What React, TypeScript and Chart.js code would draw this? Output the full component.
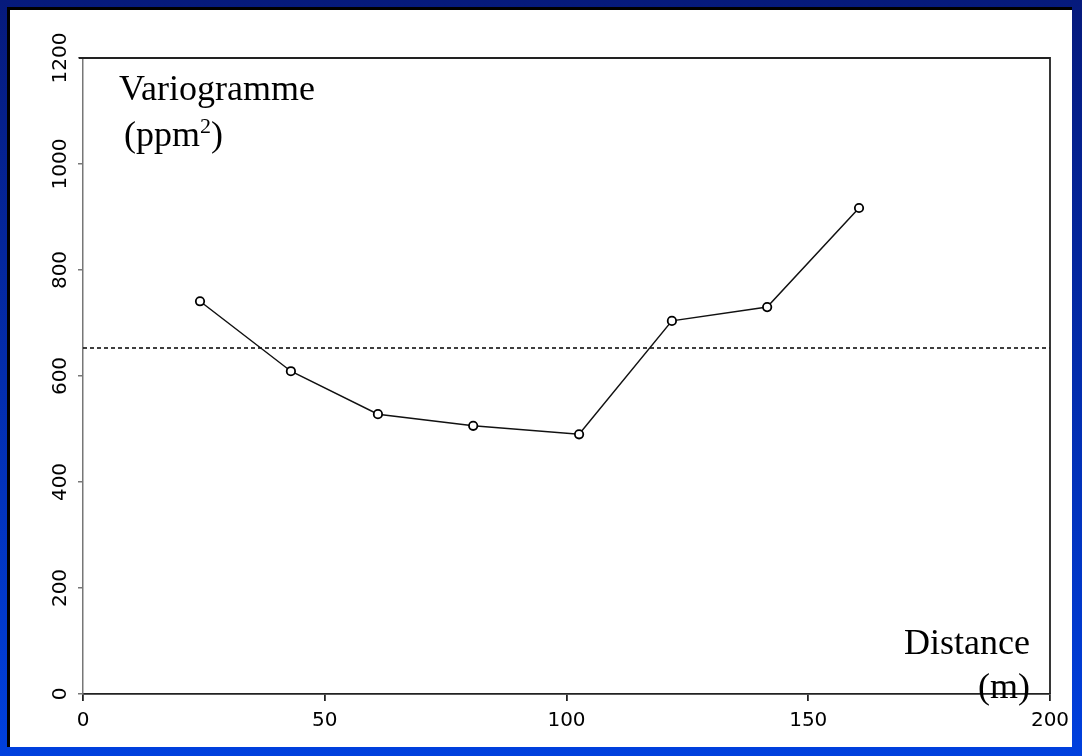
import React, { useEffect, useRef } from "react";
import { Chart, registerables } from "chart.js";

Chart.register(...registerables);

// Experimental variogram: lag distance (m) and semivariance (ppm²)
const distances = [24.2, 43.0, 61.0, 80.7, 102.6, 121.8, 141.5, 160.5];
const semivariance = [741, 609, 528, 506, 490, 704, 730, 917];
// Sample variance (horizontal dashed reference)
const sillValue = 653;
const sillX = [0, 200];
const xTickValues = [0, 50, 100, 150, 200];
const yTickValues = [0, 200, 400, 600, 800, 1000, 1200];

export default function App() {
  const ref = useRef<HTMLCanvasElement | null>(null);

  useEffect(() => {
    document.body.style.margin = "0";
    const canvas = ref.current;
    if (!canvas) return;

    const bgPlugin = {
      id: "bgPanel",
      beforeDraw(chart: any) {
        const { ctx, width, height } = chart;
        ctx.save();
        const g = ctx.createLinearGradient(0, 0, 0, height);
        g.addColorStop(0, "#061a7c");
        g.addColorStop(1, "#0040de");
        ctx.fillStyle = g;
        ctx.fillRect(0, 0, width, height);
        ctx.fillStyle = "#000";
        ctx.fillRect(7, 7, width - 17, height - 16);
        ctx.fillStyle = "#fff";
        ctx.fillRect(10, 10, width - 20, height - 19);
        ctx.restore();
      },
    };

    const framePlugin = {
      id: "frameAndText",
      afterDraw(chart: any) {
        const { ctx, chartArea } = chart;
        const ys = chart.scales.y;
        ctx.save();
        // top and right frame
        ctx.strokeStyle = "#222";
        ctx.lineWidth = 1.8;
        ctx.beginPath();
        ctx.moveTo(chartArea.left - 4, chartArea.top);
        ctx.lineTo(chartArea.right, chartArea.top);
        ctx.lineTo(chartArea.right, chartArea.bottom);
        ctx.stroke();

        // rotated y tick labels
        ctx.fillStyle = "#000";
        ctx.font = '20px "DejaVu Sans"';
        ctx.textAlign = "center";
        ctx.textBaseline = "middle";
        yTickValues.forEach((v) => {
          const py = ys.getPixelForValue(v);
          ctx.save();
          ctx.translate(61, py);
          ctx.rotate(-Math.PI / 2);
          ctx.fillText(String(v), 0, 0);
          ctx.restore();
        });

        // annotations
        ctx.fillStyle = "#000";
        ctx.textBaseline = "alphabetic";
        ctx.textAlign = "left";
        ctx.font = '36px "Liberation Serif"';
        ctx.fillText("Variogramme", 119, 100);
        let x = 124;
        ctx.fillText("(ppm", x, 146);
        x += ctx.measureText("(ppm").width;
        ctx.font = '22px "Liberation Serif"';
        ctx.fillText("2", x, 133);
        x += ctx.measureText("2").width;
        ctx.font = '36px "Liberation Serif"';
        ctx.fillText(")", x, 146);

        ctx.textAlign = "right";
        ctx.fillText("Distance", 1030, 654);
        ctx.fillText("(m)", 1030, 698);
        ctx.restore();
      },
    };

    const chart = new Chart(canvas, {
      type: "line",
      data: {
        datasets: [
          {
            label: "Variogramme",
            data: distances.map((d, i) => ({ x: d, y: semivariance[i] })),
            borderColor: "#111",
            borderWidth: 1.5,
            pointRadius: 4.2,
            pointBorderWidth: 1.8,
            pointBackgroundColor: "#fff",
            pointBorderColor: "#000",
            tension: 0,
          },
          {
            label: "Variance",
            data: sillX.map((d) => ({ x: d, y: sillValue })),
            borderColor: "#000",
            borderWidth: 1.5,
            borderDash: [4, 3],
            pointRadius: 0,
          },
        ],
      },
      options: {
        responsive: false,
        animation: false,
        devicePixelRatio: 1,
        layout: { padding: { top: 58, right: 32, left: 0, bottom: 0 } },
        plugins: {
          legend: { display: false },
          tooltip: { enabled: false },
        },
        scales: {
          x: {
            type: "linear",
            min: 0,
            max: 200,
            afterFit: (s: any) => {
              s.height = 62;
            },
            afterBuildTicks: (s: any) => {
              s.ticks = xTickValues.map((v) => ({ value: v }));
            },
            ticks: {
              color: "#000",
              font: { family: "DejaVu Sans", size: 20 },
              padding: 8,
              maxRotation: 0,
            },
            grid: {
              drawOnChartArea: false,
              drawTicks: true,
              tickLength: 7,
              color: "#222",
              lineWidth: 1.8,
            },
            border: { display: true, color: "#222", width: 1.8 },
          },
          y: {
            type: "linear",
            min: 0,
            max: 1200,
            afterFit: (s: any) => {
              s.width = 83;
            },
            afterBuildTicks: (s: any) => {
              s.ticks = yTickValues.map((v) => ({ value: v }));
            },
            ticks: { display: false },
            grid: {
              drawOnChartArea: false,
              drawTicks: true,
              tickLength: 5,
              color: "#777",
              lineWidth: 1.5,
            },
            border: { display: true, color: "#777", width: 1.5 },
          },
        },
      },
      plugins: [bgPlugin, framePlugin],
    });

    return () => chart.destroy();
  }, []);

  return (
    <div style={{ width: 1082, height: 756 }}>
      <canvas ref={ref} width={1082} height={756} style={{ display: "block" }} />
    </div>
  );
}
